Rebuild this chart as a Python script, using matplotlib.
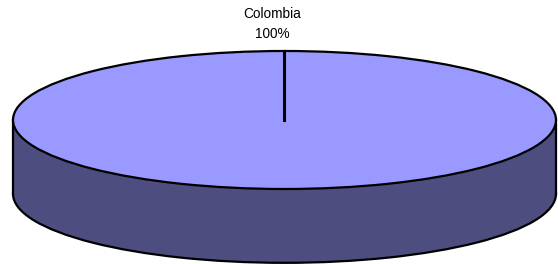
import numpy as np
import matplotlib.pyplot as plt
from matplotlib.patches import Rectangle

labels = ['Colombia']
values = [100]

top_color = '#9999ff'
side_color = '#4d4d80'
depth = 1.07

fig = plt.figure(figsize=(5.58, 2.64), dpi=100)
ax = fig.add_axes([0, 0, 1, 1])

# bottom of the cylinder
ax.pie(values, colors=[side_color], startangle=90, counterclock=False,
       center=(0, -depth), radius=1,
       wedgeprops=dict(edgecolor='black', linewidth=1.6))
# side wall
ax.add_patch(Rectangle((-1, -depth), 2, depth, facecolor=side_color,
                       edgecolor='none', zorder=2))
ax.plot([-1, -1], [-depth, 0], color='black', lw=1.6, zorder=3)
ax.plot([1, 1], [-depth, 0], color='black', lw=1.6, zorder=3)
# top face
wedges, _ = ax.pie(values, colors=[top_color], startangle=90, counterclock=False,
                   center=(0, 0), radius=1,
                   wedgeprops=dict(edgecolor='black', linewidth=1.6))
for w in wedges:
    w.set_zorder(4)

# slice boundary lines
total = sum(values)
ang = 90.0
for v in values:
    a = np.deg2rad(ang)
    ax.plot([0, np.cos(a)], [0, np.sin(a)], color='black', lw=2.2, zorder=5)
    ang -= 360.0 * v / total

for lab, v in zip(labels, values):
    ax.text(-0.046, 1.39, f'{lab}\n{v / total:.0%}', ha='center', va='center',
            fontsize=9.8, family='Liberation Sans', linespacing=1.6, zorder=6)

ax.set_aspect('auto')
ax.set_xlim(-1.0479, 1.0074)
ax.set_ylim(-2.087, 1.739)
ax.axis('off')

fig.savefig('out.png', dpi=100)
